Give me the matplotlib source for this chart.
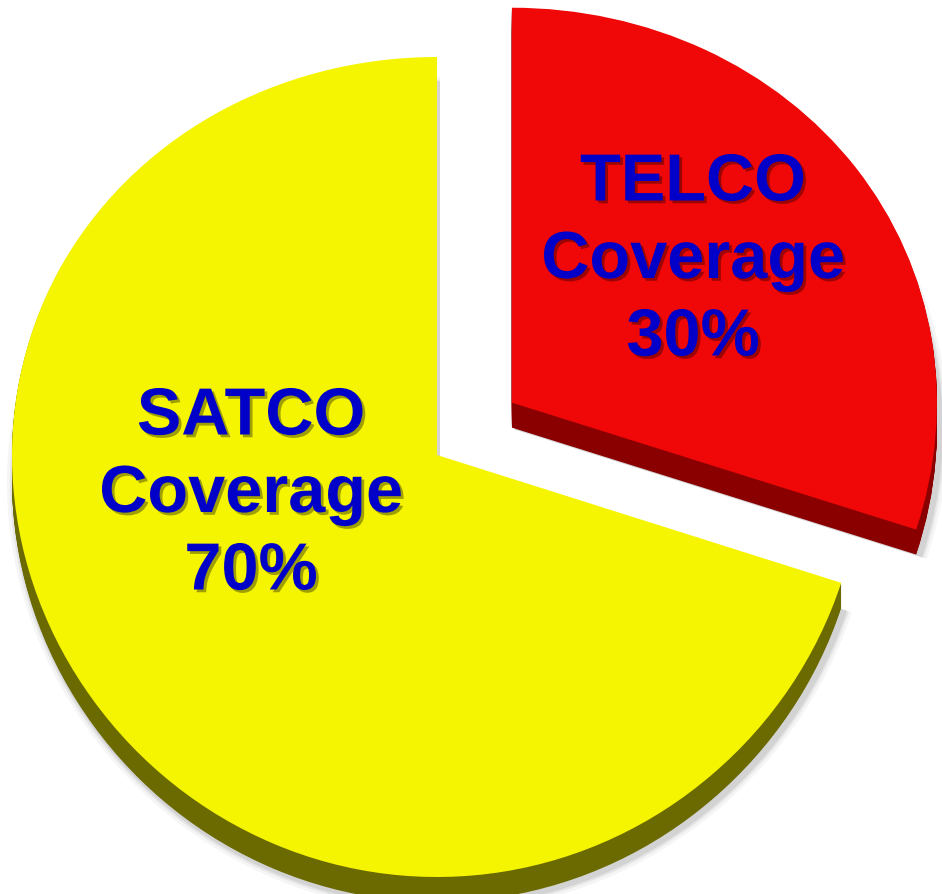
import numpy as np
import matplotlib
matplotlib.use("Agg")
import matplotlib.pyplot as plt
import matplotlib.patheffects as pe
from matplotlib.transforms import Transform

# data
names = ["TELCO", "SATCO"]
shares = [30, 70]
face_colors = ["#F00707", "#F5F502"]
side_colors = ["#8A0000", "#6B6A00"]
explode = [0.218, 0.0]

W, H = 942, 894
rx, ry = 425.0, 410.0      # ellipse radii, px
bow = 12.0                 # perspective: far edge a bit shorter than the near one
cx, cy = 437.0, 455.0      # centre of the yellow slice, px
depth = 25                 # thickness of the 3D side, px


class Tilt(Transform):
    """unit pie coords -> pixel coords, with a slight perspective"""
    input_dims = output_dims = 2
    has_inverse = False

    def __init__(self, dx=0.0, dy=0.0):
        super().__init__()
        self.dx, self.dy = dx, dy

    def transform_non_affine(self, values):
        v = np.asarray(values, dtype=float)
        x, y = v[:, 0], v[:, 1]
        return np.column_stack([cx + self.dx + rx * x,
                                cy + self.dy - ry * y + bow * y ** 2])


fig = plt.figure(figsize=(W / 100, H / 100), dpi=100)
ax = fig.add_axes([0, 0, 1, 1])


def layer(dx, dy, colors, radius=1.0, alpha=1.0):
    ax.pie(shares, explode=explode, colors=colors, startangle=90,
           counterclock=False, radius=radius,
           wedgeprops=dict(linewidth=0, alpha=alpha,
                           transform=Tilt(dx, dy) + ax.transData))


# soft drop shadow
for s, a in [(8, 0.04), (5, 0.06), (3, 0.08)]:
    layer(3, depth + 2, ["#000000", "#000000"], radius=1 + s / rx, alpha=a)

# side of the pie
for k in range(depth, 0, -1):
    layer(0, k, side_colors)

# top face
layer(0, 0, face_colors)

# labels: (x centre, baseline of middle line) in px
label_pos = [(693, 278), (251, 512)]
pitch = 77.5 * 72 / 100    # line pitch in points
shadow = [pe.withSimplePatchShadow(offset=(2, -2), shadow_rgbFace="black", alpha=0.35)]
for name, pct, (px, py) in zip(names, shares, label_pos):
    lines = [name, "Coverage", f"{pct}%"]
    for i, txt in enumerate(lines):
        ax.annotate(txt, xy=(px, py),
                    xytext=(0, -(i - 1) * pitch), textcoords="offset points",
                    ha="center", va="baseline", fontsize=48, fontweight="bold",
                    family="Liberation Sans", color="#0000C8",
                    path_effects=shadow)

ax.set_xlim(0, W)
ax.set_ylim(H, 0)
ax.set_aspect("auto")
ax.axis("off")

fig.savefig("out.png", dpi=100)
